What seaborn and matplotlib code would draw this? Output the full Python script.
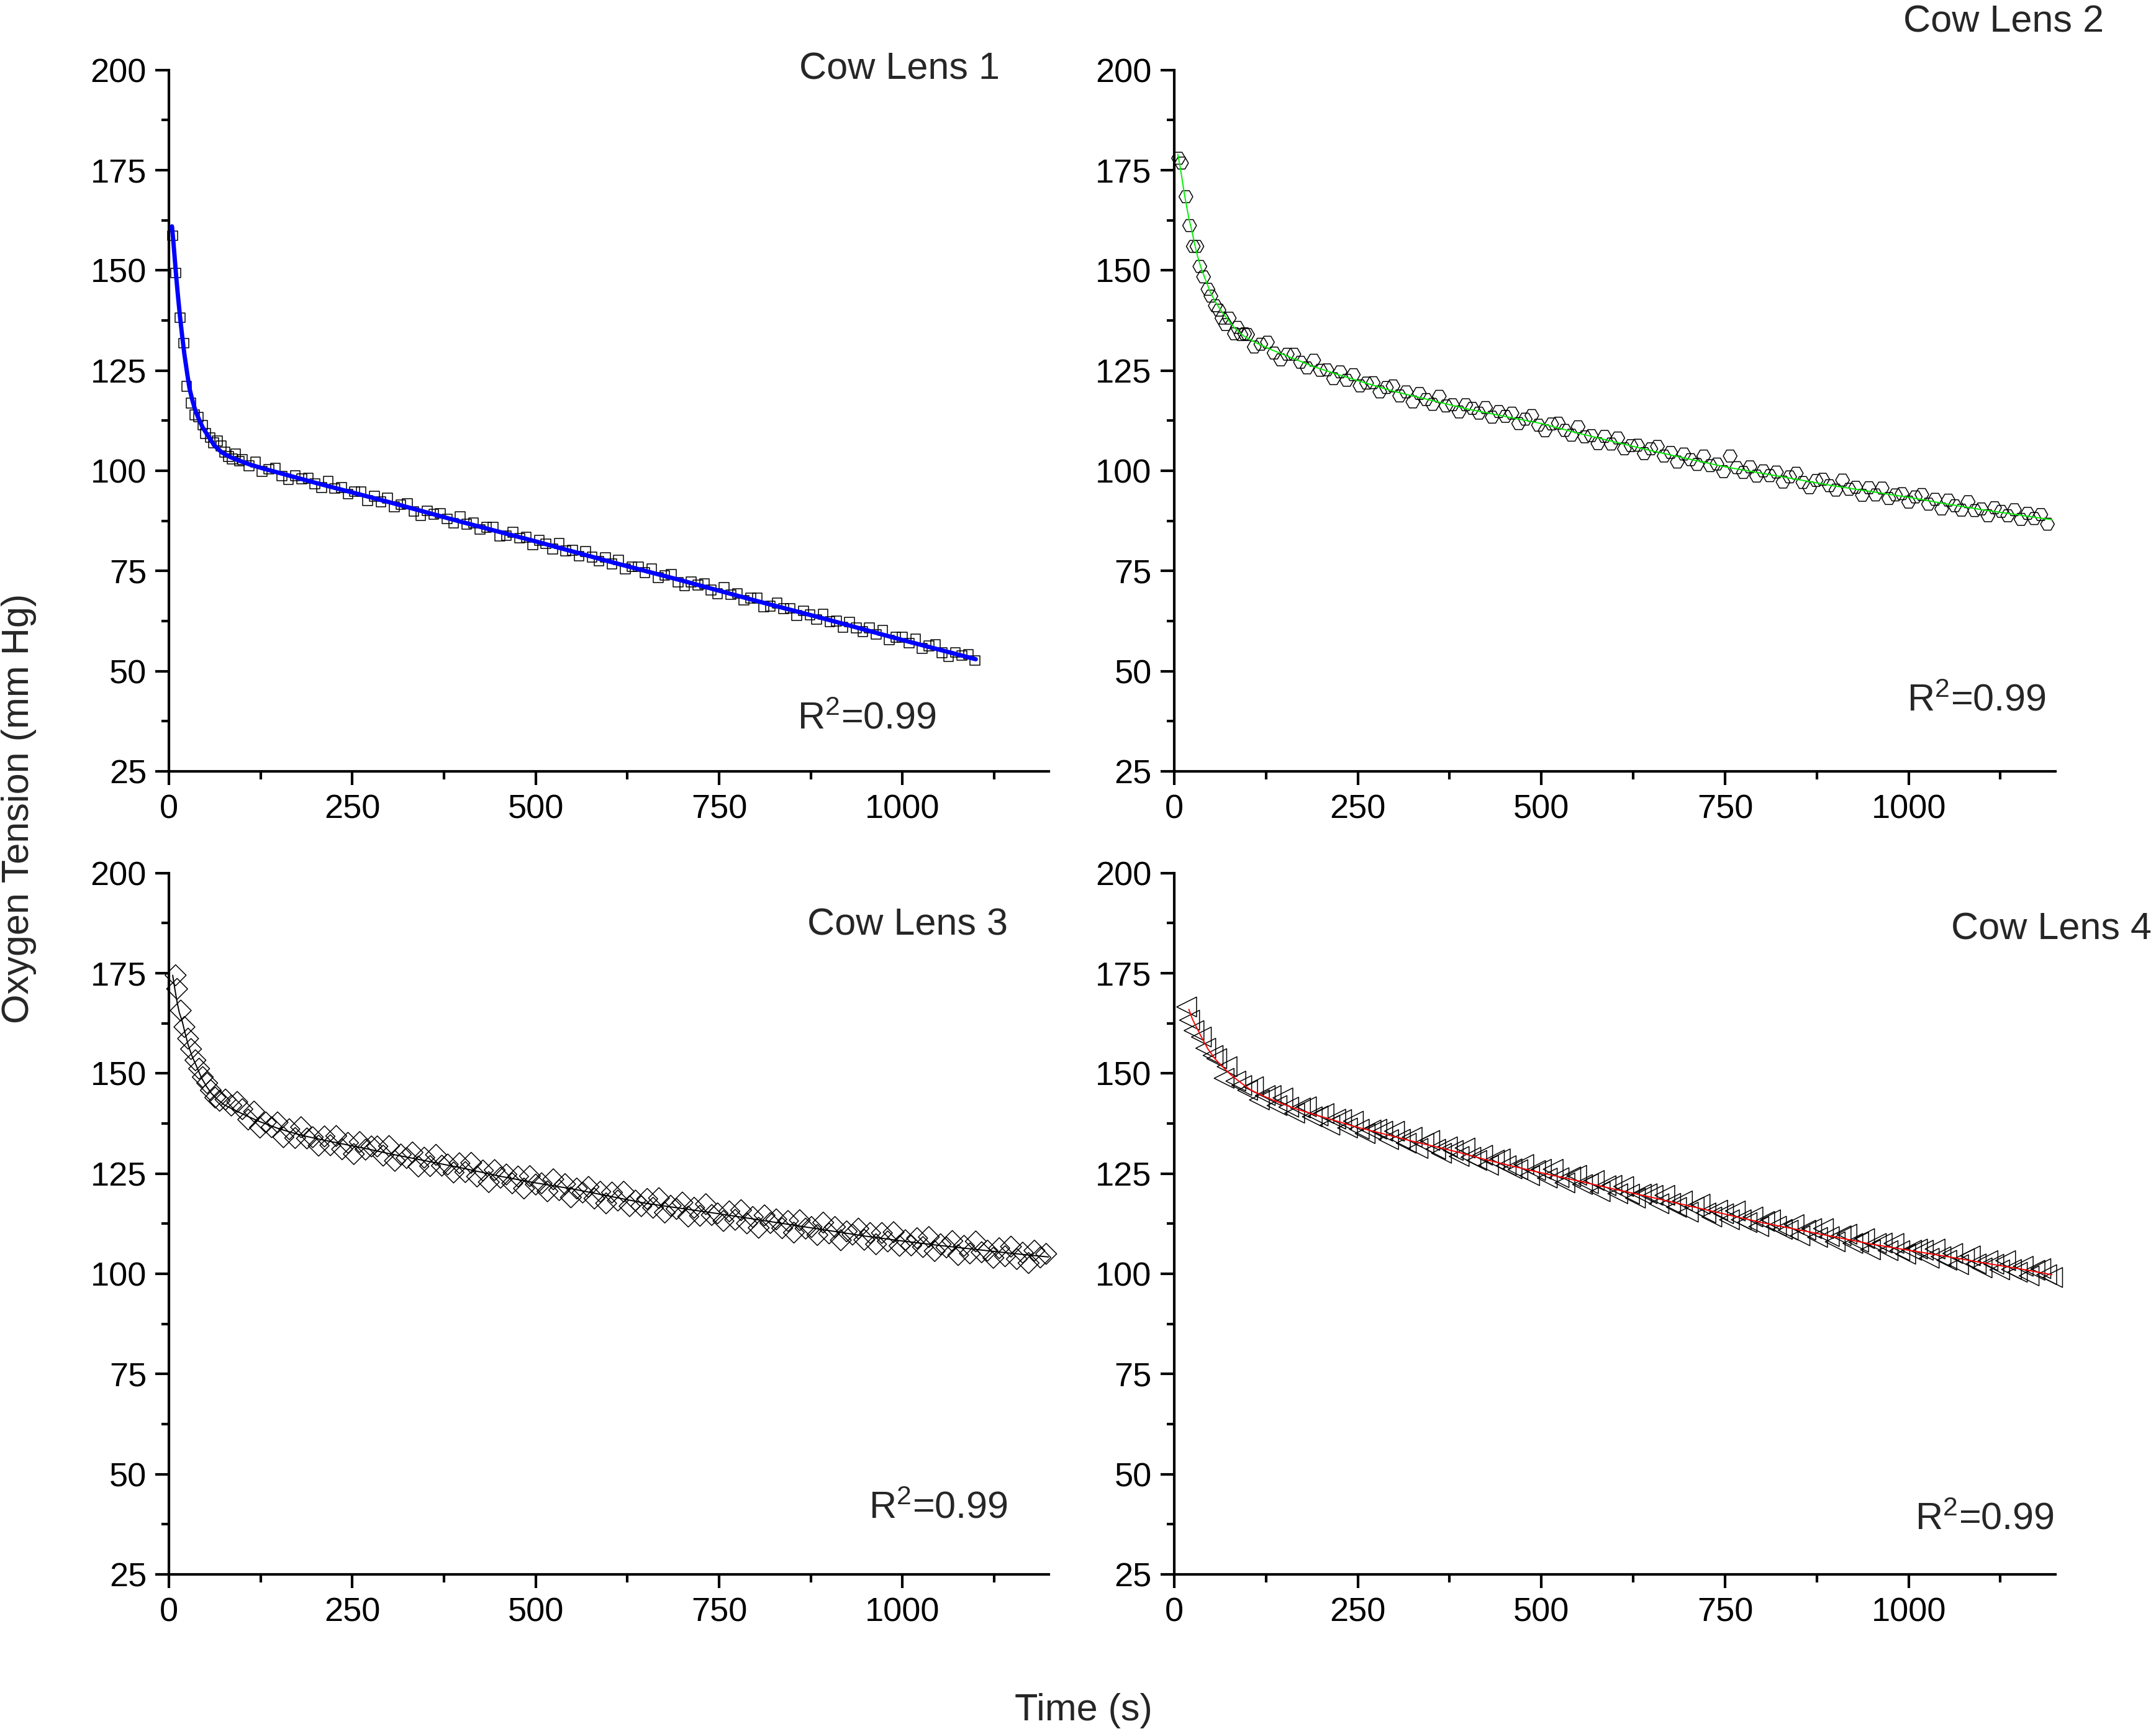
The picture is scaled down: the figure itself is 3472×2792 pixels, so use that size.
import numpy as np
import pandas as pd
import seaborn as sns
import matplotlib
matplotlib.use("Agg")
import matplotlib.pyplot as plt
from matplotlib.ticker import MultipleLocator

# ---------------- data ----------------
# Cow Lens 1 (squares, blue fit)
t1_early = [5, 9, 15, 20, 24, 30, 35, 40, 46, 50, 56, 61, 66, 71, 76, 81, 86, 91, 96]
v1_early = [158.7, 149.4, 138.2, 131.9, 121.1, 116.9, 114.0, 113.4, 111.4, 109.3,
            108.3, 107.0, 107.5, 106.2, 104.7, 103.6, 103.0, 104.3, 102.4]
t1_late = np.arange(100, 1100, 9)
v1_late = [102.8, 101.3, 102.2, 99.9, 100.4, 100.7, 98.7, 97.8, 98.8, 98.0,
           98.2, 96.8, 95.8, 97.4, 95.6, 95.8, 94.2, 94.8, 94.8, 92.6,
           93.7, 92.3, 93.2, 91.0, 91.6, 91.8, 89.9, 88.9, 90.0, 89.2,
           89.4, 88.0, 86.9, 88.6, 86.7, 87.0, 85.4, 85.9, 86.0, 83.7,
           83.8, 84.7, 83.2, 83.4, 81.5, 82.7, 81.8, 80.5, 81.9, 80.0,
           80.2, 78.7, 79.9, 78.5, 77.5, 78.4, 76.8, 77.8, 75.5, 76.1,
           76.1, 74.6, 75.6, 73.4, 73.9, 74.2, 72.2, 71.3, 72.3, 71.5,
           71.8, 70.3, 69.3, 71.0, 69.1, 69.4, 67.7, 68.3, 68.3, 66.1,
           66.2, 67.0, 65.6, 65.7, 63.9, 65.1, 64.1, 62.9, 64.2, 62.4,
           62.5, 61.0, 62.3, 60.8, 59.9, 60.8, 59.2, 60.2, 57.8, 58.5,
           58.5, 57.0, 58.0, 55.7, 56.3, 56.6, 54.6, 53.7, 54.7, 53.9,
           54.2, 52.7]
fit1_t = [4, 6, 8, 10, 12, 15, 18, 21, 25, 28, 32, 36, 41, 46, 53, 62, 72, 84, 95,
          110, 130, 150, 200, 300, 400, 500, 600, 700, 800, 900, 1000, 1100]
fit1_v = [161, 157, 152.5, 148, 144, 138.4, 133.5, 129, 124, 120.5, 117.5, 115, 112.8,
          110.8, 108.8, 106.3, 104.6, 103.4, 102.6, 101.6, 100.5, 99.5, 97.0, 92.2,
          87.2, 82.4, 77.4, 72.6, 67.6, 62.8, 57.8, 53.0]

# Cow Lens 2 (hexagons, green fit)
t2_early = [6, 10, 16, 21, 26, 31, 35, 40, 46, 50, 56, 61, 65, 70, 75, 82, 86, 91, 96]
v2_early = [178.0, 176.8, 168.4, 161.2, 156.0, 156.0, 151.0, 148.4, 145.3, 143.6,
            141.2, 140.1, 138.1, 136.5, 138.1, 134.2, 135.8, 134.0, 134.2]
t2_late = np.arange(100, 1190, 9)
v2_late = [134.0, 130.9, 131.6, 132.1, 129.4, 127.7, 129.1, 129.1, 127.1, 125.7,
           127.6, 125.1, 125.2, 123.0, 124.7, 122.6, 124.0, 121.2, 121.9, 122.0,
           119.7, 120.8, 121.2, 118.7, 119.7, 117.2, 119.3, 117.8, 116.6, 118.6,
           116.2, 116.5, 114.7, 116.5, 115.6, 114.4, 115.8, 113.4, 114.8, 113.6,
           114.4, 111.8, 112.9, 113.8, 111.4, 110.0, 111.7, 111.9, 110.1, 108.9,
           111.0, 108.5, 108.8, 106.8, 108.6, 106.7, 108.2, 105.5, 106.3, 106.4,
           104.3, 105.5, 106.1, 103.7, 104.6, 102.2, 104.2, 102.8, 101.6, 103.7,
           101.3, 101.7, 99.8, 103.7, 100.8, 99.6, 101.0, 98.7, 100.0, 98.8,
           99.7, 97.2, 98.5, 99.4, 97.1, 95.8, 97.6, 97.9, 96.3, 95.2,
           97.7, 95.4, 95.9, 93.9, 95.8, 94.0, 95.7, 93.1, 94.0, 94.3,
           92.2, 93.5, 94.1, 91.7, 92.9, 90.5, 92.7, 91.3, 90.2, 92.3,
           90.1, 90.5, 88.8, 90.8, 89.9, 88.8, 90.3, 87.9, 89.4, 88.1,
           89.1, 86.7]
fit2_t = [5, 8, 11, 14, 17, 20, 24, 28, 32, 36, 42, 49, 56, 63, 72, 83, 95, 111, 134,
          160, 190, 220, 250, 300, 350, 400, 450, 500, 550, 600, 650, 700, 750, 800,
          850, 900, 950, 1000, 1050, 1100, 1150, 1195]
fit2_v = [179, 176, 172.5, 169, 166, 163, 160, 156.5, 153.5, 151, 148, 144.7, 142.2,
          140.2, 138, 135.5, 133.6, 132, 130.1, 128.2, 126, 124.2, 122.5, 119.8,
          117.6, 115.4, 113.6, 111.8, 109.4, 107.2, 105.0, 103.0, 101.0, 99.4, 97.8,
          96.2, 94.8, 93.4, 91.8, 90.3, 89.0, 87.8]

# Cow Lens 3 (diamonds, black fit)
t3_early = [9, 11, 16, 21, 26, 30, 36, 41, 46, 52, 57, 63, 69, 77, 85, 93]
v3_early = [174.5, 171.1, 165.7, 161.6, 158.7, 156.1, 153.3, 151.2, 149.1, 147.6,
            145.8, 144.0, 143.2, 143.5, 142.0, 142.9]
t3_late = np.arange(100, 1200, 8)
v3_late = [141.1, 138.5, 140.5, 136.5, 137.8, 136.6, 137.8, 134.1, 136.1, 133.9,
           136.6, 133.8, 134.1, 132.0, 134.3, 132.1, 134.4, 131.1, 132.7, 129.9,
           132.9, 131.0, 131.8, 131.8, 129.5, 131.9, 128.2, 129.8, 128.9, 130.3,
           126.8, 129.0, 126.9, 129.7, 127.0, 127.3, 125.3, 127.6, 125.4, 127.7,
           124.3, 125.8, 122.9, 125.9, 124.0, 124.8, 122.6, 124.3, 121.3, 124.4,
           122.3, 122.6, 120.6, 123.6, 120.9, 122.4, 119.1, 121.3, 120.3, 121.7,
           118.8, 120.5, 117.6, 120.3, 118.3, 120.5, 116.9, 118.3, 116.9, 118.7,
           116.5, 118.9, 115.3, 117.0, 116.2, 117.8, 114.3, 116.5, 114.5, 117.4,
           114.7, 115.1, 113.2, 115.6, 113.5, 115.9, 112.6, 114.2, 111.5, 114.6,
           112.7, 113.6, 111.4, 113.2, 110.3, 113.4, 111.3, 111.7, 109.7, 112.8,
           110.1, 111.7, 108.4, 110.6, 109.8, 111.3, 108.5, 110.2, 107.4, 110.2,
           108.1, 110.4, 107.0, 108.4, 107.1, 108.9, 106.7, 109.2, 105.7, 107.4,
           106.6, 108.2, 104.7, 107.0, 105.1, 108.1, 105.4, 105.8, 104.0, 106.4,
           104.4, 106.8, 103.7, 105.3, 102.7, 105.8, 104.1, 105.0]
fit3_t = [5, 8, 11, 14, 18, 22, 26, 31, 37, 44, 51, 58, 65, 75, 90, 105, 122, 150,
          180, 210, 240, 270, 300, 350, 400, 450, 500, 550, 600, 650, 700, 750, 800,
          850, 900, 950, 1000, 1050, 1100, 1150, 1200]
fit3_v = [174.5, 171, 167.8, 165.2, 163.0, 160.0, 157.2, 154.5, 152.0, 149.0, 146.8,
          145.0, 143.7, 142.2, 140.8, 139.5, 138.1, 136.2, 134.6, 133.4, 132.3, 131.2,
          130.0, 128.2, 126.4, 124.4, 122.7, 121.2, 119.4, 117.6, 116.3, 115.0, 113.6,
          112.2, 110.8, 109.4, 108.2, 107.1, 106.1, 105.1, 104.2]

# Cow Lens 4 (left triangles, red fit)
t4_early = [17, 21, 27, 37, 43, 53, 58, 68, 72, 84, 92]
v4_early = [166.6, 163.3, 160.7, 159.1, 156.3, 154.5, 153.7, 148.8, 151.7, 148.1, 147.0]
t4_late = np.arange(100, 1200, 8)
v4_late = [145.8, 146.7, 143.4, 144.5, 144.5, 142.0, 143.9, 141.6, 140.1, 141.4,
           141.7, 139.2, 139.4, 140.0, 137.1, 138.6, 138.5, 136.4, 138.1, 136.1,
           135.0, 135.9, 136.1, 135.6, 133.5, 135.6, 133.6, 132.6, 134.1, 131.3,
           132.6, 133.3, 131.1, 130.1, 131.7, 130.8, 129.3, 131.4, 129.1, 128.3,
           129.6, 127.1, 128.4, 128.7, 127.0, 126.2, 126.0, 127.3, 124.5, 125.8,
           126.1, 123.9, 126.1, 124.0, 122.7, 124.2, 124.6, 122.3, 122.5, 123.3,
           120.5, 122.0, 122.1, 120.0, 121.8, 119.9, 118.9, 119.9, 120.0, 119.6,
           117.5, 119.6, 117.6, 116.6, 118.2, 115.4, 116.7, 117.4, 115.2, 114.2,
           115.9, 115.0, 113.5, 115.7, 113.5, 112.8, 114.2, 111.8, 113.1, 113.5,
           111.9, 111.1, 110.9, 112.3, 109.5, 110.9, 111.3, 109.1, 111.3, 109.3,
           108.0, 109.5, 109.9, 107.6, 107.9, 108.8, 106.0, 107.6, 107.7, 105.8,
           107.6, 105.8, 104.9, 105.9, 106.2, 105.9, 103.9, 106.2, 104.3, 103.4,
           105.1, 102.3, 103.8, 104.5, 102.5, 101.5, 103.3, 102.4, 101.0, 103.3,
           101.1, 100.4, 101.9, 99.5, 100.9, 101.3, 99.8, 99.1]
fit4_t = [20, 25, 31, 38, 46, 55, 63, 77, 90, 105, 120, 134, 162, 190, 218, 247, 275,
          303, 331, 359, 388, 420, 460, 500, 550, 600, 650, 700, 750, 800, 850, 900,
          950, 1000, 1050, 1100, 1150, 1195]
fit4_v = [166, 163.5, 161.3, 158.8, 156.1, 153.8, 152.2, 149.7, 147.8, 145.8, 144.5,
          143.4, 141.4, 139.8, 138.3, 136.7, 135.4, 134.1, 132.8, 131.6, 130.3, 128.7,
          126.9, 125.2, 123.2, 121.1, 119.1, 117.0, 114.9, 112.8, 111.0, 109.2, 107.4,
          105.9, 104.4, 102.8, 101.3, 99.8]

titles = ["Cow Lens 1", "Cow Lens 2", "Cow Lens 3", "Cow Lens 4"]
r2_text = r"R$^{2}$=0.99"
x_ticks = [0, 250, 500, 750, 1000]
y_ticks = [25, 50, 75, 100, 125, 150, 175, 200]

# ---------------- styling ----------------
sns.set_theme(style="ticks")
plt.rcParams["font.family"] = ["Liberation Sans", "DejaVu Sans"]
plt.rcParams["mathtext.fontset"] = "custom"
plt.rcParams["mathtext.rm"] = "Liberation Sans"
plt.rcParams["mathtext.it"] = "Liberation Sans"
plt.rcParams["mathtext.default"] = "regular"
TICKFONT = ["Liberation Sans Narrow", "Liberation Sans", "DejaVu Sans"]

fig = plt.figure(figsize=(17.36, 13.96), dpi=200)
positions = [
    [0.0784, 0.5551, 0.4082, 0.4045],
    [0.5446, 0.5551, 0.4088, 0.4045],
    [0.0784, 0.0920, 0.4082, 0.4045],
    [0.5446, 0.0920, 0.4088, 0.4045],
]
panels = [
    (np.concatenate([t1_early, t1_late]), np.concatenate([v1_early, v1_late]), fit1_t, fit1_v,
     "s", 5.6, "#0000ff", 2.5),
    (np.concatenate([t2_early, t2_late]), np.concatenate([v2_early, v2_late]), fit2_t, fit2_v,
     "H", 8.0, "#00ee00", 0.7),
    (np.concatenate([t3_early, t3_late]), np.concatenate([v3_early, v3_late]), fit3_t, fit3_v,
     "D", 8.6, "#000000", 0.7),
    (np.concatenate([t4_early, t4_late]), np.concatenate([v4_early, v4_late]), fit4_t, fit4_v,
     "<", 11.5, "#ff0000", 0.7),
]

axes = []
for pos, (tt, vv, ft, fv, mk, ms, lc, lw) in zip(positions, panels):
    ax = fig.add_axes(pos)
    axes.append(ax)
    df = pd.DataFrame({"t": tt, "v": vv})
    sns.scatterplot(data=df, x="t", y="v", marker=mk, s=ms ** 2, ax=ax,
                    linewidth=0.55, zorder=2, legend=False)
    coll = ax.collections[-1]
    coll.set_facecolor("none")
    coll.set_edgecolor("black")
    coll.set_clip_on(False)
    dff = pd.DataFrame({"t": ft, "v": fv})
    sns.lineplot(data=dff, x="t", y="v", ax=ax, color=lc, lw=lw, estimator=None,
                 sort=False, zorder=3, legend=False)
    ax.set_xlim(0, 1200)
    ax.set_ylim(25, 200)
    ax.set_xticks(x_ticks)
    ax.set_yticks(y_ticks)
    ax.xaxis.set_minor_locator(MultipleLocator(125))
    ax.yaxis.set_minor_locator(MultipleLocator(12.5))
    ax.set_xlabel("")
    ax.set_ylabel("")
    sns.despine(ax=ax)
    for sp in ["left", "bottom"]:
        ax.spines[sp].set_linewidth(1.5)
        ax.spines[sp].set_color("black")
    ax.tick_params(which="major", direction="out", length=8, width=1.5, color="black",
                   labelsize=19.5, pad=5, labelcolor="black", labelfontfamily=TICKFONT)
    ax.tick_params(which="minor", direction="out", length=4.5, width=1.5, color="black")

# texts
fs = 22
fig.text(0.4636, 0.960, titles[0], ha="right", va="center", fontsize=fs)
fig.text(0.9758, 0.987, titles[1], ha="right", va="center", fontsize=fs)
fig.text(0.4675, 0.4665, titles[2], ha="right", va="center", fontsize=fs)
fig.text(0.998, 0.4640, titles[3], ha="right", va="center", fontsize=fs)

fig.text(0.4343, 0.5853, r2_text, ha="right", va="center", fontsize=fs)
fig.text(0.949, 0.5956, r2_text, ha="right", va="center", fontsize=fs)
fig.text(0.4675, 0.130, r2_text, ha="right", va="center", fontsize=fs)
fig.text(0.9528, 0.1237, r2_text, ha="right", va="center", fontsize=fs)

fig.text(0.0089, 0.5337, "Oxygen Tension (mm Hg)", rotation=90, ha="center",
         va="center", fontsize=fs)
fig.text(0.5026, 0.0135, "Time (s)", ha="center", va="center", fontsize=fs)

fig.savefig("out.png", dpi=200, facecolor="white")
